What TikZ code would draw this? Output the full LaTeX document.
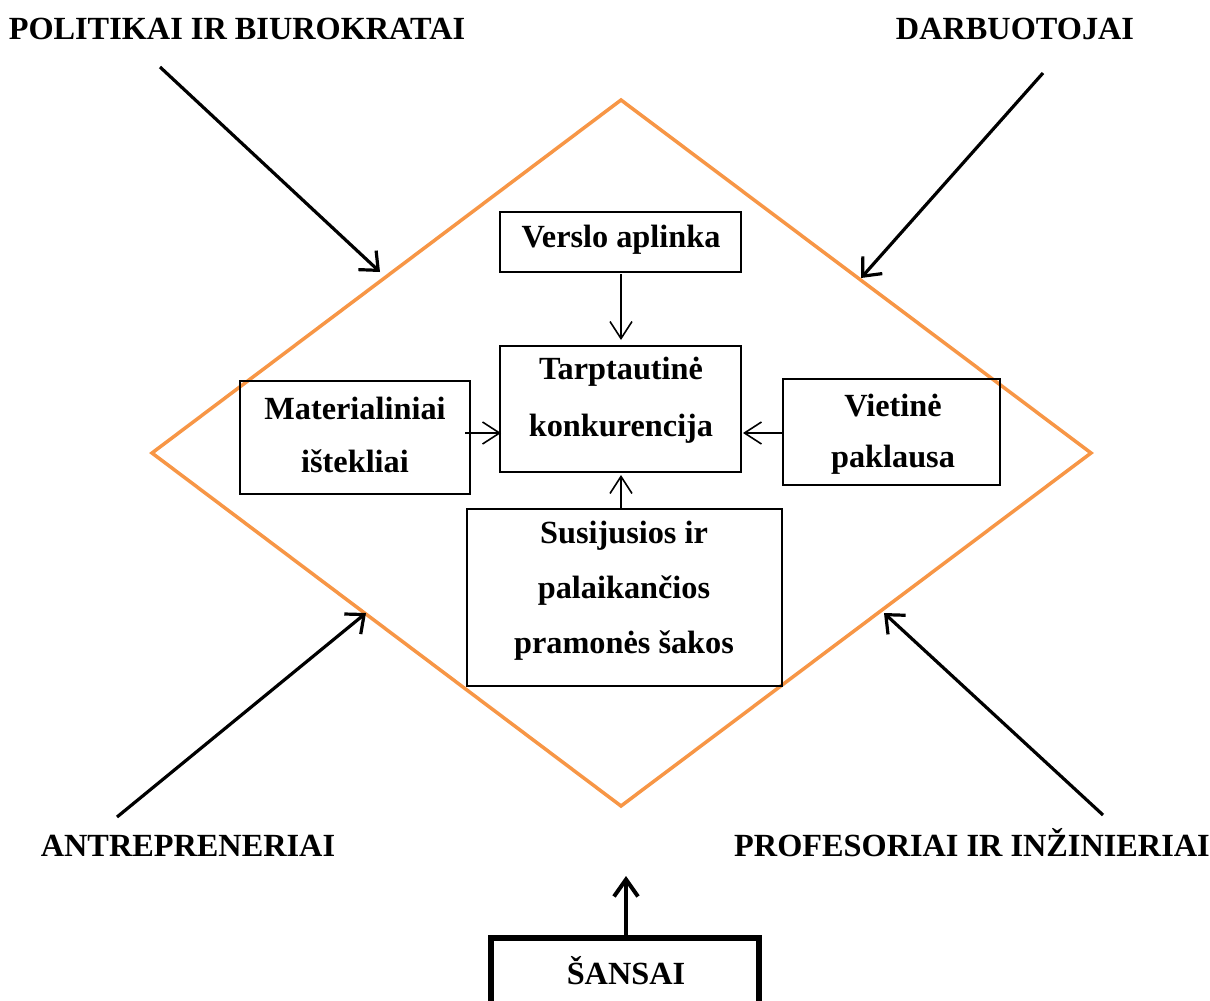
\documentclass[tikz,border=0pt]{standalone}
\usepackage{fontspec}
\setmainfont{Liberation Serif}
\usetikzlibrary{arrows.meta}
\definecolor{diamondorange}{RGB}{247,150,70}
\begin{document}
\begin{tikzpicture}[x=1pt,y=-1pt,
  txt/.style={font=\bfseries\fontsize{32.3}{57}\selectfont, align=center, inner sep=0pt},
  box/.style={draw=black, line width=1.3pt, inner sep=0pt},
  link/.style={line width=1.6pt, -{Straight Barb[length=17pt,width=22pt,line width=1.6pt]}},
  force/.style={line width=3.2pt, -{Straight Barb[length=15pt,width=26pt,line width=3.2pt]}}
]
\useasboundingbox (0,0) rectangle (1210,1001);
\clip (0,0) rectangle (1210,1001);

% Porter diamond outline
\coordinate (dtop) at (621,100);
\coordinate (dright) at (1091,453);
\coordinate (dbottom) at (621,806);
\coordinate (dleft) at (152,453);
\draw[diamondorange, line width=3.5pt, line join=miter] (dtop) -- (dright) -- (dbottom) -- (dleft) -- cycle;

% inner boxes
\node[box, minimum width=241pt, minimum height=60pt] (verslo) at (620.5,242) {};
\node[box, minimum width=241pt, minimum height=126pt] (tarp) at (620.5,409) {};
\node[box, minimum width=230pt, minimum height=113pt] (mat) at (355,437.5) {};
\node[box, minimum width=217pt, minimum height=106pt] (viet) at (891.5,432) {};
\node[box, minimum width=315pt, minimum height=177pt] (sus) at (624.5,597.5) {};

% box texts
\node[txt] (tverslo) at (621,240) {Verslo aplinka};
\node[txt] (ttarp) at (621,400) {Tarptautinė\\konkurencija};
\node[txt] (tmat) at (355,435) {Materialiniai\\[-4pt]ištekliai};
\node[txt] (tviet) at (893,434) {Vietinė\\[-6pt]paklausa};
\node[txt] (tsus) at (624,591) {Susijusios ir\\[-2pt]palaikančios\\[-2pt]pramonės šakos};

% connectors between the boxes
\coordinate (vout) at (621,274);
\coordinate (vin) at (621,340);
\coordinate (matout) at (465,433);
\coordinate (tarpin) at (501,433);
\coordinate (vietout) at (783,433);
\coordinate (tarpinr) at (743,433);
\coordinate (susout) at (621,509);
\coordinate (susin) at (621,475);
\draw[link] (vout) -- (vin);
\draw[link] (matout) -- (tarpin);
\draw[link] (vietout) -- (tarpinr);
\draw[link] (susout) -- (susin);

% outer actors
\node[txt, anchor=base] (pol) at (237,39) {POLITIKAI IR BIUROKRATAI};
\node[txt, anchor=base] (darb) at (1015,39) {DARBUOTOJAI};
\node[txt, anchor=base] (antr) at (188,856) {ANTREPRENERIAI};
\node[txt, anchor=base] (prof) at (972,856) {PROFESORIAI IR INŽINIERIAI};

\coordinate (polstart) at (160,67);
\coordinate (polend) at (380,272);
\coordinate (darbstart) at (1043,73);
\coordinate (darbend) at (861,278);
\coordinate (antrstart) at (117,817);
\coordinate (antrend) at (366,613);
\coordinate (profstart) at (1103,815);
\coordinate (profend) at (884,613);
\draw[force] (polstart) -- (polend);
\draw[force] (darbstart) -- (darbend);
\draw[force] (antrstart) -- (antrend);
\draw[force] (profstart) -- (profend);

% chance box
\node[draw=black, line width=6pt, minimum width=268pt, minimum height=90pt, inner sep=0pt] (sans) at (625,983) {};
\node[txt, anchor=base] (tsans) at (626,984) {ŠANSAI};
\coordinate (sansfoot) at (626,938);
\coordinate (sanstip) at (626,876);
\draw[line width=4pt, -{Straight Barb[length=17pt,width=24pt,line width=4pt]}] (sansfoot) -- (sanstip);
\end{tikzpicture}
\end{document}
